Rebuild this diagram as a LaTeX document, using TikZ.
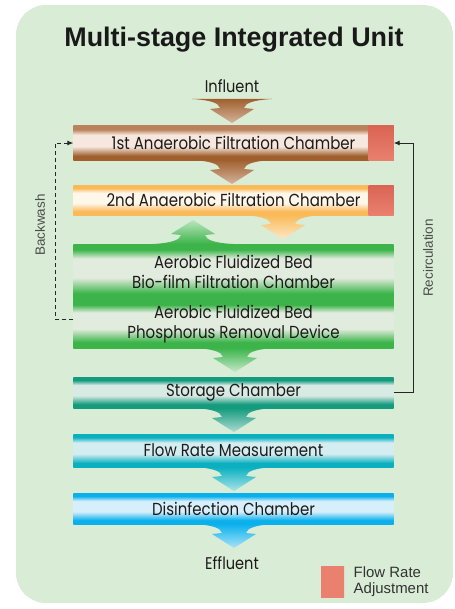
\documentclass[tikz,border=0pt]{standalone}
\usepackage{fontspec}
\setmainfont{Liberation Sans}
\newfontfamily\barfont[FakeStretch=0.86]{Poppins}
\usetikzlibrary{arrows.meta}
\usetikzlibrary{positioning}
\definecolor{bg}{RGB}{216,236,214}
\definecolor{ink}{RGB}{30,26,27}
\definecolor{brownD}{RGB}{160,96,46}
\definecolor{brownT}{RGB}{185,130,92}
\definecolor{brownL}{RGB}{246,232,222}
\definecolor{orangeD}{RGB}{250,186,88}
\definecolor{orangeL}{RGB}{255,247,234}
\definecolor{greenD}{RGB}{60,180,74}
\definecolor{greenL}{RGB}{226,236,222}
\definecolor{tealD}{RGB}{20,155,125}
\definecolor{tealL}{RGB}{216,234,228}
\definecolor{cyanD}{RGB}{10,176,192}
\definecolor{cyanL}{RGB}{212,237,241}
\definecolor{blueD}{RGB}{10,176,236}
\definecolor{blueL}{RGB}{214,239,251}
\definecolor{adjred}{RGB}{234,128,110}
\definecolor{adjdark}{RGB}{218,100,84}
\colorlet{barT}{black}
\colorlet{barM}{white}
\colorlet{barB}{black}
% the path is fitted to the 25bp--75bp part of the shading
\pgfdeclareverticalshading[barT,barM,barB]{chambershade}{100bp}{%
  color(0bp)=(barB); color(25bp)=(barB); color(31bp)=(barB); color(45bp)=(barM);
  color(62bp)=(barM); color(70bp)=(barT); color(75bp)=(barT); color(100bp)=(barT)}
\tikzset{chamber/.style n args={4}{minimum width=320bp, minimum height=#1,
                         inner sep=0pt, align=center, text=ink,
                         font=\barfont\fontsize{17.5}{20}\selectfont,
                         /utils/exec={\colorlet{barT}{#2}\colorlet{barM}{#3}\colorlet{barB}{#4}},
                         shading=chambershade},
         adjust/.style={minimum width=25bp, minimum height=#1, inner sep=0pt,
                        top color=adjdark, bottom color=adjred},
         sidelabel/.style={rotate=90, text=black!70, font=\fontsize{13.5}{15}\selectfont},
         loopline/.style={line width=0.9bp, black!85,
                          -{Latex[length=6bp,width=5bp]}},
         pics/chev/.style 2 args={code={
           \shade[top color=#1, bottom color=#2]
             (-40,0) -- (40,0) .. controls (22,1) and (13,4) .. (12,9)
             -- (22,10) -- (0,24) -- (-22,10) -- (-12,9)
             .. controls (-13,4) and (-22,1) .. (-40,0) -- cycle;}}}

\begin{document}
\begin{tikzpicture}[x=1bp, y=-1bp]
    \useasboundingbox (0,0) rectangle (455,609);
    \fill [bg, rounded corners=30bp] (16,5) rectangle (453,603);

    \node [font=\bfseries\fontsize{27}{31}\selectfont, text=black!90] (title) at (234,40)
      {Multi-stage Integrated Unit};
    \node [font=\barfont\fontsize{17}{20}\selectfont, text=ink] (influent) at (232,86) {Influent};

    % chambers, top to bottom
    \node [chamber={34bp}{brownT}{brownL}{brownD}]
      (anaer1) at (233.5,143) {1st Anaerobic Filtration Chamber};
    \node [chamber={30bp}{orangeD}{orangeL}{orangeD}]
      (anaer2) at (233.5,200) {2nd Anaerobic Filtration Chamber};
    \node [chamber={56bp}{greenD}{greenL}{greenD}]
      (biofilm) at (233.5,272) {Aerobic Fluidized Bed\\Bio-film Filtration Chamber};
    \node [chamber={48bp}{greenD}{greenL}{greenD}]
      (phos) at (233.5,324) {Aerobic Fluidized Bed\\Phosphorus Removal Device};
    \node [chamber={31bp}{tealD}{tealL}{tealD}]
      (storage) at (233.5,392.5) {Storage Chamber};
    \node [chamber={33bp}{cyanD}{cyanL}{cyanD}]
      (flowmeas) at (233.5,450.5) {Flow Rate Measurement};
    \node [chamber={31bp}{blueD}{blueL}{blueD}]
      (disinf) at (233.5,508.5) {Disinfection Chamber};
    \node [font=\barfont\fontsize{17}{20}\selectfont, text=ink] (effluent) at (232,563) {Effluent};

    \node [adjust=34bp, anchor=east] (adj1) at (anaer1.east) {};
    \node [adjust=30bp, anchor=east] (adj2) at (anaer2.east) {};

    % flow between the chambers
    \pic at (232,99) {chev={brownD}{brownT!60}};
    \pic at (232,160) {chev={brownD}{brownT!60}};
    \pic at (283,215) {chev={orangeD}{orangeD!35}};
    \pic [yscale=-1] at (193,244) {chev={greenD!35}{greenD}};
    \pic at (235,348) {chev={greenD}{greenD!30}};
    \pic at (234,408) {chev={tealD}{tealD!35}};
    \pic at (234,467) {chev={cyanD}{cyanD!35}};
    \pic at (234,524) {chev={blueD}{blueD!35}};

    % backwash and recirculation
    \draw [loopline, dash pattern=on 4bp off 3bp] ([yshift=5bp]phos.west) -- ++(-18,0) |- (anaer1.west);
    \draw [loopline] (storage.east) -- ++(20,0) |- (adj1.east);
    \node [sidelabel] (bwlabel) at (40,225) {Backwash};
    \node [sidelabel] (rclabel) at (428,258) {Recirculation};

    % legend
    \node [adjust=31bp, minimum width=23bp, top color=adjred, bottom color=adjred]
      (legbox) at (332.5,581.5) {};
    \node [right=6bp of legbox, align=left, text=black!80,
           font=\fontsize{15}{16.5}\selectfont] (legtext) {Flow Rate\\Adjustment};
\end{tikzpicture}
\end{document}
